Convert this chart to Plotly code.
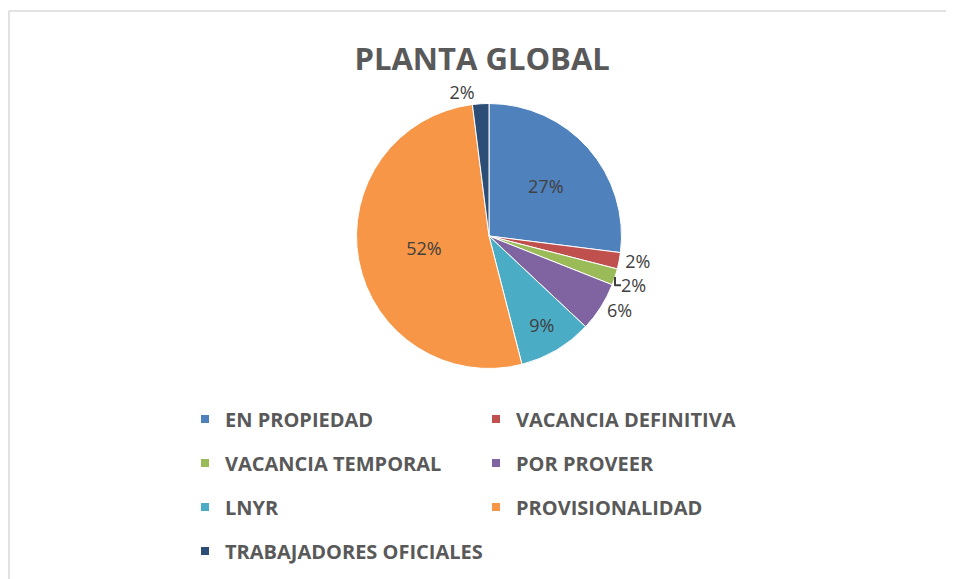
import plotly.graph_objects as go

categories = ["EN PROPIEDAD", "VACANCIA DEFINITIVA", "VACANCIA TEMPORAL", "POR PROVEER",
              "LNYR", "PROVISIONALIDAD", "TRABAJADORES OFICIALES"]
values = [27, 2, 2, 6, 9, 52, 2]
colors = ["#4F81BD", "#C0504D", "#9BBB59", "#8064A2", "#4BACC6", "#F79646", "#2C4D75"]
text_positions = ["inside", "outside", "outside", "outside", "inside", "inside", "outside"]
title_text = "PLANTA GLOBAL"

W, H = 954, 579
FONT = "Open Sans"
OFF = 8  # page body margin in the browser

def px_x(p):
    return (p - OFF) / W

def px_y(p):
    return 1 - (p - OFF) / H

fig = go.Figure()

cx, cy, d = 489, 236, 265
fig.add_trace(go.Pie(
    labels=categories,
    values=values,
    sort=False,
    direction="clockwise",
    rotation=0,
    marker=dict(colors=colors, line=dict(color="white", width=1)),
    texttemplate="%{percent:.0%}",
    textposition=text_positions,
    insidetextorientation="horizontal",
    textfont=dict(family=FONT, size=18, color="#404040"),
    showlegend=False,
    automargin=False,
    hoverinfo="label+percent",
    domain=dict(x=[px_x(cx - d / 2), px_x(cx + d / 2)],
                y=[px_y(cy + d / 2), px_y(cy - d / 2)]),
))

legend_names = ["legend", "legend2", "legend3", "legend4"]
for i, (cat, col) in enumerate(zip(categories, colors)):
    fig.add_trace(go.Scatter(
        x=[None], y=[None], mode="markers", name=cat,
        marker=dict(symbol="square", size=8, color=col),
        showlegend=True, legend=legend_names[i // 2],
    ))

row_centers = [419, 463, 507, 551]
legend_common = dict(
    orientation="h", entrywidth=246, entrywidthmode="pixels",
    xanchor="left", yanchor="middle", x=px_x(185),
    font=dict(family=FONT, size=20, color="#595959", weight="bold"),
    itemwidth=30, bgcolor="rgba(0,0,0,0)", traceorder="normal",
)
legend_layout = {}
for name, yc in zip(legend_names, row_centers):
    legend_layout[name] = dict(legend_common, y=px_y(yc))
legend_layout["legend4"]["entrywidth"] = 420

fig.update_layout(
    width=W, height=H,
    margin=dict(l=0, r=0, t=0, b=0, autoexpand=False),
    paper_bgcolor="white", plot_bgcolor="white",
    title=dict(text=title_text, x=0.497, xanchor="center", y=px_y(59), yanchor="middle",
               yref="container",
               font=dict(family=FONT, size=31, color="#595959", weight="bold")),
    xaxis=dict(visible=False), yaxis=dict(visible=False),
    shapes=[
        dict(type="line", xref="paper", yref="paper", x0=0.001, x1=1, y0=px_y(11), y1=px_y(11),
             line=dict(color="#D9D9D9", width=1.5)),
        dict(type="line", xref="paper", yref="paper", x0=0.001, x1=0.001, y0=0, y1=px_y(11),
             line=dict(color="#D9D9D9", width=1.5)),
    ],
    **legend_layout,
)

fig.write_html("out.html")
